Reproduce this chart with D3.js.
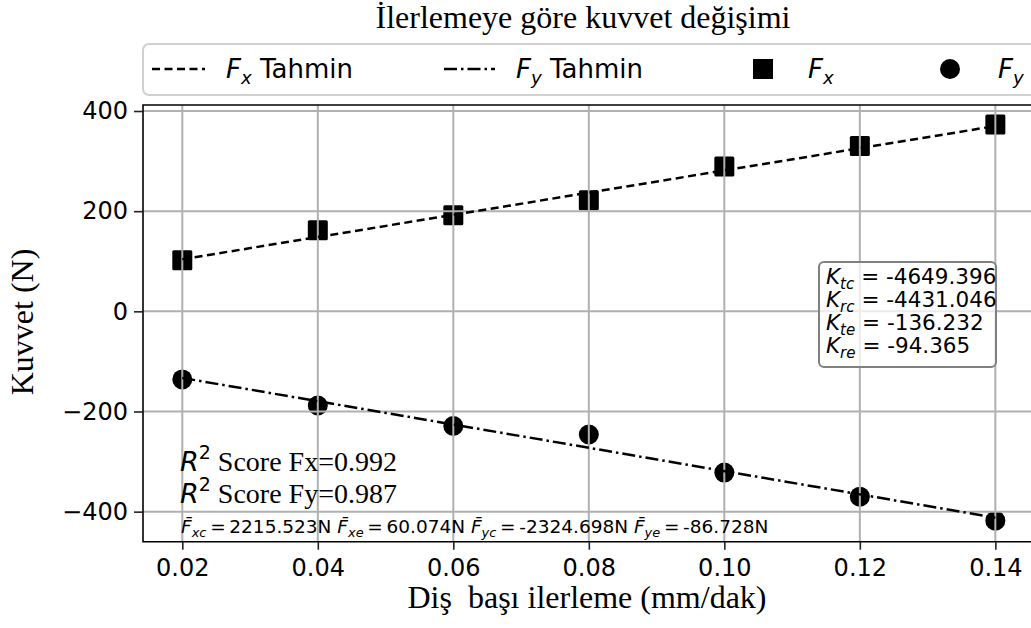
<!DOCTYPE html>
<html><head><meta charset="utf-8">
<script src="https://cdn.jsdelivr.net/npm/d3@7"></script>
<style>html,body{margin:0;padding:0;background:#fff;} text{white-space:pre;}</style>
</head><body>
<svg id="c" width="1031" height="628"></svg>
<script>
// ---- data ----
const feedValues = [0.02, 0.04, 0.06, 0.08, 0.10, 0.12, 0.14];
const fxMeasured = [102, 162, 192, 222, 289, 330, 373];
const fyMeasured = [-136, -188, -229, -246, -322, -370, -418];
const fitFeed = [0.02, 0.14];
const fxFit = [104, 370];
const fyFit = [-133, -412];
const xTickValues = [0.02, 0.04, 0.06, 0.08, 0.10, 0.12, 0.14];
const xTickLabels = ["0.02", "0.04", "0.06", "0.08", "0.10", "0.12", "0.14"];
const yTickValues = [-400, -200, 0, 200, 400];
const yTickLabels = ["\u2212400", "\u2212200", "0", "200", "400"];
const kNames = ["tc", "rc", "te", "re"];
const kValues = ["-4649.396", "-4431.046", "-136.232", "-94.365"];
const r2Labels = ["Fx", "Fy"];
const r2Values = ["0.992", "0.987"];
const fbarNames = ["xc", "xe", "yc", "ye"];
const fbarValues = ["2215.523", "60.074", "-2324.698", "-86.728"];

const svg = d3.select("#c");
const L = 143, T = 105, R = 1036, B = 541.7;
const x = d3.scaleLinear().domain([0.0142, 0.146]).range([L, R]);
const y = d3.scaleLinear().domain([-460, 412]).range([B, T]);
const SANS = "DejaVu Sans", SERIF = "Liberation Serif";

function rich(sel, px, py, parts, size, family, anchor) {
  const t = sel.append("text").attr("x", px).attr("y", py)
    .attr("font-family", family).attr("font-size", size)
    .attr("text-anchor", anchor || "start").attr("fill", "#000");
  let cur = 0;
  parts.forEach(p => {
    const ts = t.append("tspan").text(p.t);
    const off = p.sub ? 0.22 * size : p.sup ? -0.42 * size : 0;
    if (off - cur !== 0) ts.attr("dy", off - cur);
    cur = off;
    if (p.sub || p.sup) ts.attr("font-size", size * 0.7);
    if (p.i) ts.attr("font-style", "italic");
    if (p.f) ts.attr("font-family", p.f);
    if (p.s) ts.attr("font-size", p.s);
  });
  return t;
}

// clip
svg.append("clipPath").attr("id", "clip").append("rect")
  .attr("x", L).attr("y", T).attr("width", R - L).attr("height", B - T);
const plot = svg.append("g").attr("clip-path", "url(#clip)");

// markers
plot.selectAll("rect.fx").data(feedValues).join("rect")
  .attr("x", (d) => x(d) - 10).attr("y", (d, i) => y(fxMeasured[i]) - 10)
  .attr("width", 20).attr("height", 20).attr("rx", 1.5).attr("fill", "#000");
plot.selectAll("circle.fy").data(feedValues).join("circle")
  .attr("cx", d => x(d)).attr("cy", (d, i) => y(fyMeasured[i])).attr("r", 10).attr("fill", "#000");

// grid
const grid = plot.append("g").attr("stroke", "#b0b0b0").attr("stroke-width", 2);
xTickValues.forEach(v => grid.append("line").attr("x1", x(v)).attr("x2", x(v)).attr("y1", T).attr("y2", B));
yTickValues.forEach(v => grid.append("line").attr("x1", L).attr("x2", R).attr("y1", y(v)).attr("y2", y(v)));

// fit lines
const line = d3.line().x(d => x(d[0])).y(d => y(d[1]));
plot.append("path").datum(fitFeed.map((f, i) => [f, fxFit[i]])).attr("d", line)
  .attr("fill", "none").attr("stroke", "#000").attr("stroke-width", 2.5).attr("stroke-dasharray", "8,4.5");
plot.append("path").datum(fitFeed.map((f, i) => [f, fyFit[i]])).attr("d", line)
  .attr("fill", "none").attr("stroke", "#000").attr("stroke-width", 2.5).attr("stroke-dasharray", "13,4,2.5,4");

// spines
svg.append("path").attr("d", `M${R},${T}H${L}V${B}H${R}`).attr("fill", "none").attr("stroke", "#000").attr("stroke-width", 1.6);

// axes
const xAxis = svg.append("g").attr("transform", `translate(0,${B})`)
  .call(d3.axisBottom(x).tickValues(xTickValues).tickFormat((d, i) => xTickLabels[i]).tickSize(8).tickPadding(9));
const yAxis = svg.append("g").attr("transform", `translate(${L},0)`)
  .call(d3.axisLeft(y).tickValues(yTickValues).tickFormat((d, i) => yTickLabels[i]).tickSize(9).tickPadding(6));
[xAxis, yAxis].forEach(a => {
  a.select(".domain").remove();
  a.selectAll(".tick line").attr("stroke", "#222").attr("stroke-width", 1.6);
  a.selectAll(".tick text").attr("font-family", SANS).attr("font-size", 24).attr("fill", "#000");
});

// titles
svg.append("text").attr("x", 583).attr("y", 28).attr("text-anchor", "middle")
  .attr("font-family", SERIF).attr("font-size", 32).text("İlerlemeye göre kuvvet değişimi");
svg.append("text").attr("x", 587).attr("y", 608).attr("text-anchor", "middle")
  .attr("font-family", SERIF).attr("font-size", 32).text("Diş  başı ilerleme (mm/dak)");
svg.append("text").attr("transform", "translate(33,322) rotate(-90)").attr("text-anchor", "middle")
  .attr("font-family", SERIF).attr("font-size", 32).text("Kuvvet (N)");

// legend
const lg = svg.append("g");
lg.append("rect").attr("x", 143).attr("y", 44).attr("width", 920).attr("height", 51).attr("rx", 6)
  .attr("fill", "#fff").attr("stroke", "#d0d0d0").attr("stroke-width", 2);
lg.append("line").attr("x1", 152).attr("x2", 205).attr("y1", 69).attr("y2", 69)
  .attr("stroke", "#000").attr("stroke-width", 2.5).attr("stroke-dasharray", "8,4.5");
rich(lg, 226, 78, [{t: "F", i: true}, {t: "x", i: true, sub: true}, {t: " Tahmin"}], 26, SANS);
lg.append("line").attr("x1", 444).attr("x2", 495).attr("y1", 69).attr("y2", 69)
  .attr("stroke", "#000").attr("stroke-width", 2.5).attr("stroke-dasharray", "13,4,2.5,4");
rich(lg, 516, 78, [{t: "F", i: true}, {t: "y", i: true, sub: true}, {t: " Tahmin"}], 26, SANS);
lg.append("rect").attr("x", 753).attr("y", 59).attr("width", 20).attr("height", 20).attr("fill", "#000");
rich(lg, 808, 78, [{t: "F", i: true}, {t: "x", i: true, sub: true}], 26, SANS);
lg.append("circle").attr("cx", 950).attr("cy", 69).attr("r", 10).attr("fill", "#000");
rich(lg, 998, 78, [{t: "F", i: true}, {t: "y", i: true, sub: true}], 26, SANS);

// K box
svg.append("rect").attr("x", 819).attr("y", 262).attr("width", 177).attr("height", 105).attr("rx", 5)
  .attr("fill", "#fff").attr("fill-opacity", 0.75).attr("stroke", "#808080").attr("stroke-width", 2);
kNames.forEach((n, i) => {
  rich(svg, 826, 284 + i * 23, [{t: "K", i: true}, {t: n, i: true, sub: true}, {t: " = " + kValues[i]}], 21.5, SANS);
});

// R2
r2Labels.forEach((n, i) => {
  rich(svg, 180, 471 + i * 32, [{t: "R", i: true, f: SANS, s: 27}, {t: "2", sup: true, f: SANS, s: 19}, {t: " Score " + n + "=" + r2Values[i]}], 28, SERIF);
});

// Fbar line
const fparts = [];
fbarNames.forEach((n, i) => {
  fparts.push({t: (i ? " " : "") + "F\u0304", i: true});
  fparts.push({t: n, i: true, sub: true});
  fparts.push({t: "\u2009=\u2009" + fbarValues[i] + "N"});
});
rich(svg, 181, 533, fparts, 18.5, SANS);
</script>
</body></html>
